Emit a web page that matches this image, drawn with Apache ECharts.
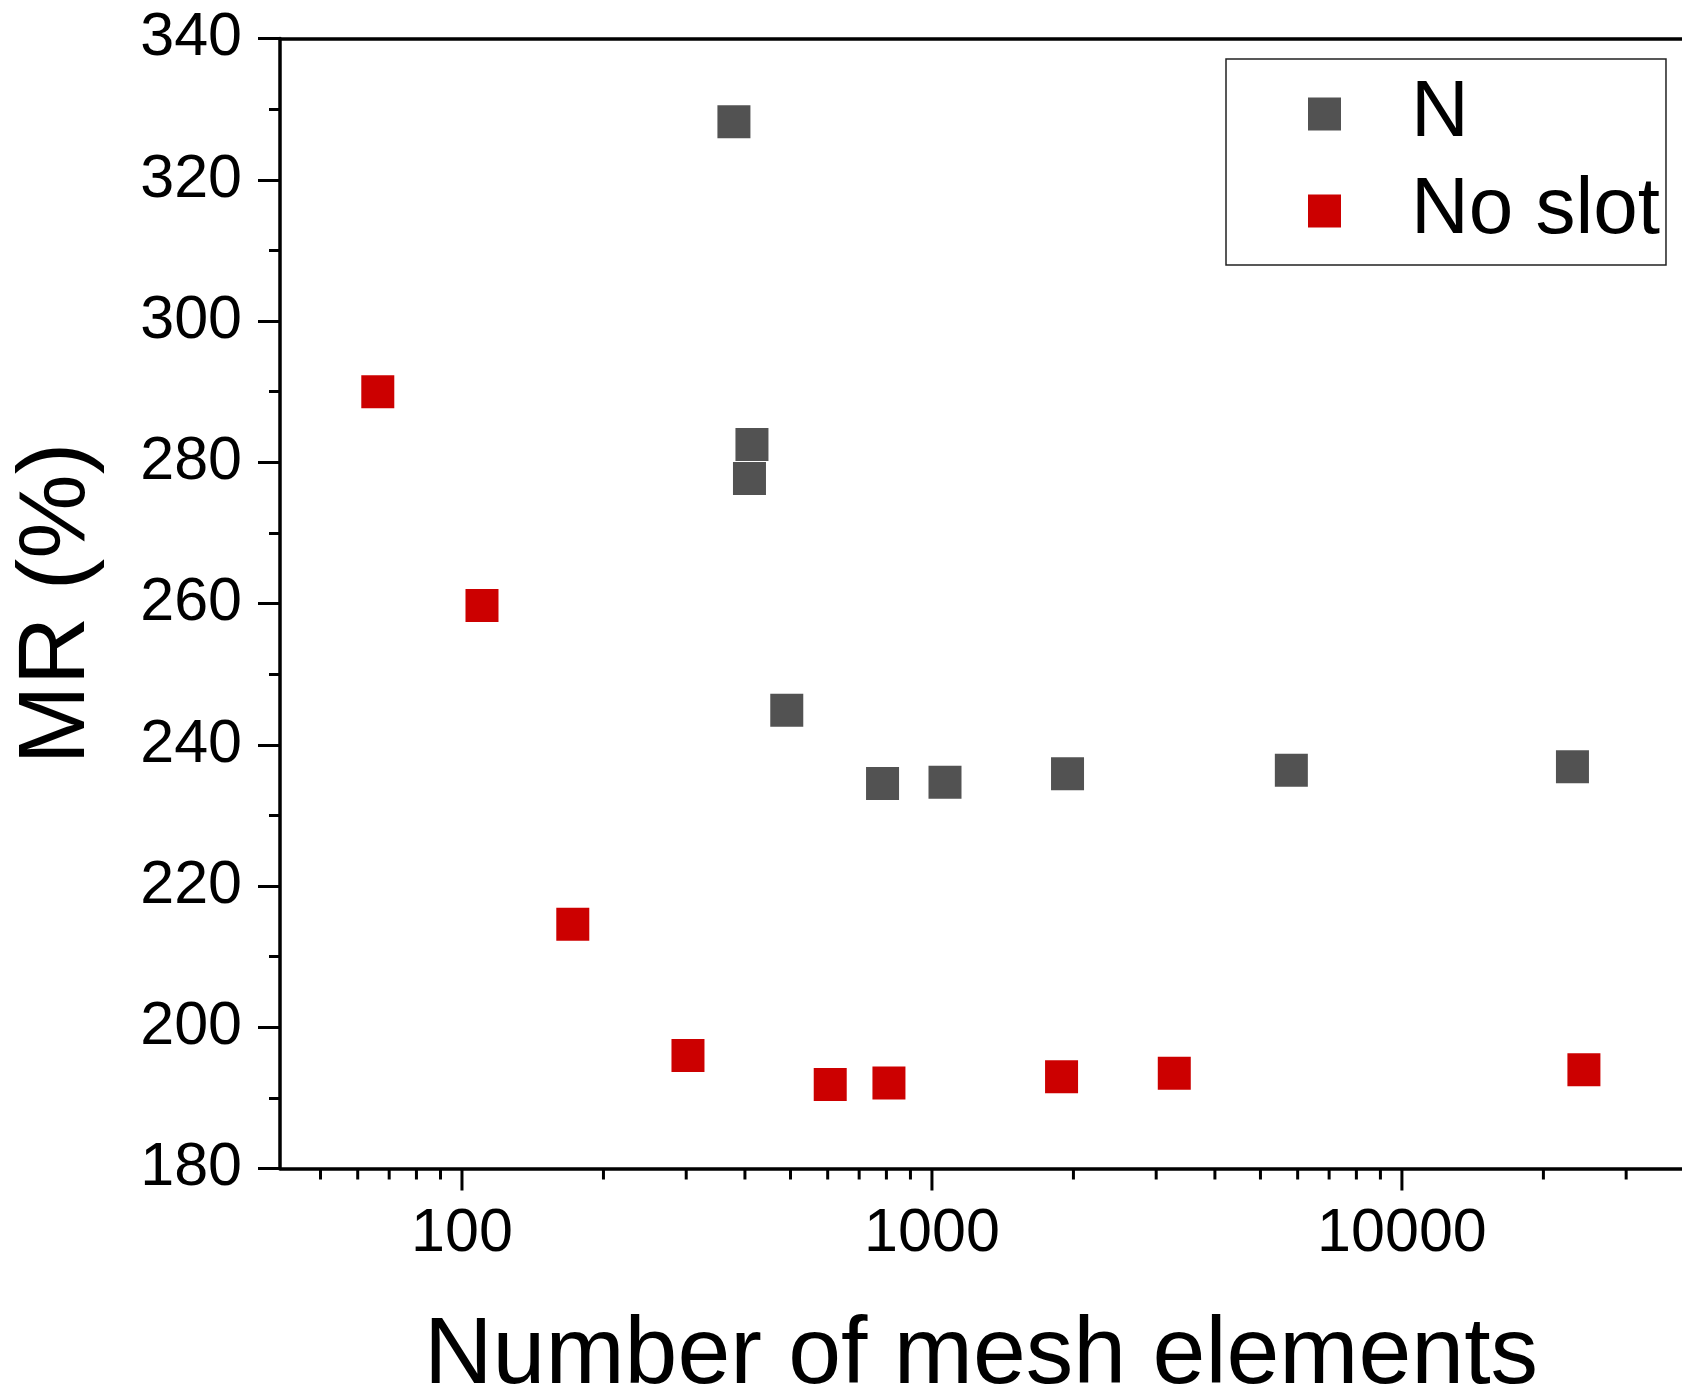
<!DOCTYPE html>
<html>
<head>
<meta charset="utf-8">
<script src="https://cdn.jsdelivr.net/npm/echarts@6/dist/echarts.min.js"></script>
<style>
  html, body { margin: 0; padding: 0; background: #fff; }
  #chart { width: 1682px; height: 1398px; }
</style>
</head>
<body>
<div id="chart"></div>
<script>
// ---- data ----
const seriesNames = ['N', 'No slot'];
const nMesh   = [379, 414, 409, 491, 785, 1066, 1943, 5817, 23059];
const nMR     = [328.2, 282.5, 277.7, 244.9, 234.5, 234.7, 235.9, 236.4, 236.9];
const noSlotMesh = [66.2, 110.3, 172.1, 302.6, 607.5, 810, 1887, 3278, 24391];
const noSlotMR   = [290.0, 259.7, 214.6, 196.0, 191.9, 192.1, 193.0, 193.5, 194.0];
const xMajorTicks = [100, 1000, 10000];
const xMinorTicks = [50, 60, 70, 80, 90, 200, 300, 400, 500, 600, 700, 800, 900,
                     2000, 3000, 4000, 5000, 6000, 7000, 8000, 9000, 20000, 30000];
const xTitle = 'Number of mesh elements';
const yTitle = 'MR (%)';

const FONT = "'Liberation Sans', Arial, sans-serif";
const X_MIN = 41, X_MAX = 39440, Y_MIN = 180, Y_MAX = 340;

const zip = (a, b) => a.map((v, i) => [v, b[i]]);

function tickSeries(values, len) {
  return {
    type: 'custom',
    silent: true,
    clip: false,
    xAxisIndex: 0,
    yAxisIndex: 0,
    data: values.map(v => [v, Y_MIN]),
    encode: { x: 0, y: 1 },
    renderItem: function (params, api) {
      const p = api.coord([api.value(0), api.value(1)]);
      return {
        type: 'line',
        shape: { x1: p[0], y1: p[1], x2: p[0], y2: p[1] + len },
        style: { stroke: '#000', lineWidth: 3 }
      };
    },
    z: 10
  };
}

const chart = echarts.init(document.getElementById('chart'), null, { renderer: 'canvas' });
chart.setOption({
  animation: false,
  backgroundColor: '#fff',
  grid: { left: 280, top: 38.5, right: 0, bottom: 229.5, containLabel: false, outerBoundsMode: 'none' },
  legend: {
    data: seriesNames,
    orient: 'vertical',
    left: 1226, top: 59,
    padding: [15, 6, 14, 82],
    itemWidth: 33, itemHeight: 33, itemGap: 17,
    icon: 'rect',
    borderColor: '#222', borderWidth: 1.5,
    textStyle: { fontFamily: FONT, fontSize: 80, color: '#000', padding: [0, 0, 0, 65] }
  },
  xAxis: [{
    type: 'log', logBase: 10, min: X_MIN, max: X_MAX,
    position: 'bottom',
    name: xTitle, nameLocation: 'middle', nameGap: 141,
    nameTextStyle: { fontFamily: FONT, fontSize: 95, color: '#000' },
    axisLine: { show: true, lineStyle: { color: '#000', width: 3.5 } },
    axisTick: { show: false },
    minorTick: { show: false },
    splitLine: { show: false },
    axisLabel: {
      margin: 35, fontFamily: FONT, fontSize: 61, color: '#000',
      formatter: function (v) {
        const l = Math.log10(v);
        return Math.abs(l - Math.round(l)) < 1e-6 ? String(Math.round(v)) : '';
      }
    }
  }, {
    type: 'log', logBase: 10, min: X_MIN, max: X_MAX,
    position: 'top',
    axisLine: { show: true, lineStyle: { color: '#000', width: 3.5 } },
    axisTick: { show: false },
    axisLabel: { show: false },
    splitLine: { show: false }
  }],
  yAxis: {
    type: 'value', min: Y_MIN, max: Y_MAX, interval: 20,
    name: yTitle, nameLocation: 'middle', nameGap: 175,
    nameTextStyle: { fontFamily: FONT, fontSize: 95, color: '#000' },
    axisLine: { show: true, lineStyle: { color: '#000', width: 3.5 } },
    axisTick: { show: true, inside: false, length: 22, lineStyle: { color: '#000', width: 3 } },
    minorTick: { show: true, splitNumber: 2, length: 11, lineStyle: { color: '#000', width: 3 } },
    splitLine: { show: false },
    minorSplitLine: { show: false },
    axisLabel: { margin: 38, fontFamily: FONT, fontSize: 61, color: '#000' }
  },
  series: [
    {
      name: seriesNames[0], type: 'scatter', symbol: 'rect', symbolSize: 33,
      itemStyle: { color: '#525252', opacity: 1 },
      data: zip(nMesh, nMR), z: 5
    },
    {
      name: seriesNames[1], type: 'scatter', symbol: 'rect', symbolSize: 33,
      itemStyle: { color: '#cc0000', opacity: 1 },
      data: zip(noSlotMesh, noSlotMR), z: 5
    },
    tickSeries(xMajorTicks, 22),
    tickSeries(xMinorTicks, 11)
  ]
});
</script>
</body>
</html>
